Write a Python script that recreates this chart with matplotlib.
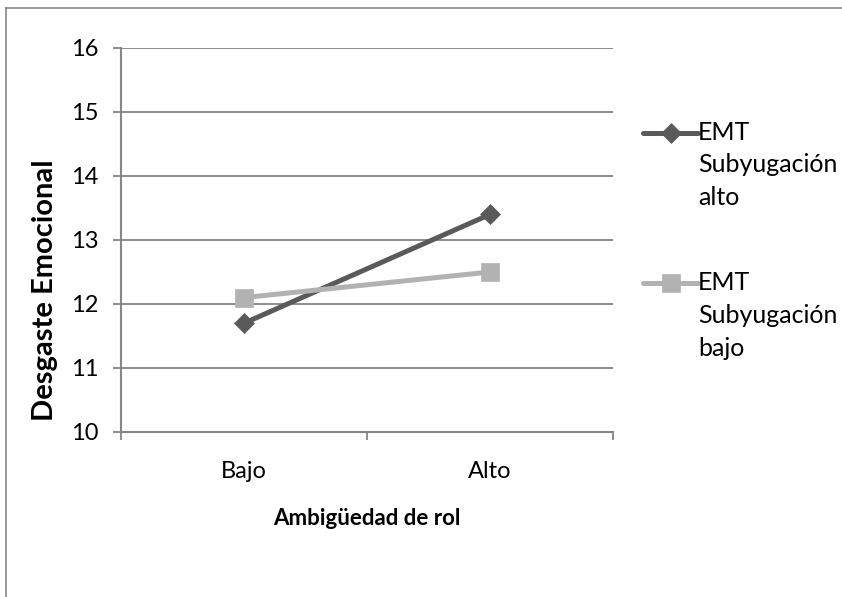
import numpy as np
import matplotlib
matplotlib.use("Agg")
import matplotlib.pyplot as plt
from matplotlib.lines import Line2D
from matplotlib.legend_handler import HandlerLine2D

categories = ["Bajo", "Alto"]
series_names = ["EMT\nSubyugación\nalto", "EMT\nSubyugación\nbajo"]
emt_alto = [11.7, 13.4]
emt_bajo = [12.1, 12.5]
y_ticks = [10, 11, 12, 13, 14, 15, 16]

plt.rcParams["font.family"] = ["Lato", "DejaVu Sans"]

W, H = 842, 597
fig = plt.figure(figsize=(W / 100, H / 100), dpi=100)
ax = fig.add_axes([121 / W, 1 - 432 / H, (613 - 121) / W, (432 - 48) / H])

grid_c = "#868686"
dark = "#5a5a5a"
light = "#b2b2b2"

x = np.arange(len(categories)) + 0.5
ax.plot(x, emt_alto, color=dark, lw=3.6, marker="D", ms=10, mec=dark, mfc=dark, mew=0.5,
        label=series_names[0], solid_capstyle="round")
ax.plot(x, emt_bajo, color=light, lw=3.6, marker="s", ms=13, mec=light, mfc=light, mew=0.5,
        label=series_names[1], solid_capstyle="round")

ax.set_xlim(0, len(categories))
ax.set_ylim(y_ticks[0], y_ticks[-1])
ax.set_yticks(y_ticks)
ax.set_xticks(np.arange(len(categories) + 1))
ax.set_xticklabels([])
ax.set_xticks(x, minor=True)
ax.set_xticklabels(categories, minor=True)
ax.tick_params(axis="x", which="minor", length=0, pad=21, labelsize=17)
ax.tick_params(axis="x", which="major", length=6, width=1.3, color=grid_c, direction="out")
ax.tick_params(axis="y", length=6, width=1.3, color=grid_c, direction="out", labelsize=17, pad=10)

ax.grid(axis="y", color=grid_c, lw=1.3)
ax.set_axisbelow(True)
for s in ["top", "right"]:
    ax.spines[s].set_visible(False)
for s in ["left", "bottom"]:
    ax.spines[s].set_color(grid_c)
    ax.spines[s].set_linewidth(1.5)

ax.set_ylabel("Desgaste Emocional", fontsize=21, fontweight="bold")
ax.yaxis.set_label_coords(-0.128, 0.37)
ax.set_xlabel("Ambigüedad de rol", fontsize=16, fontweight="bold")
ax.xaxis.set_label_coords(0.5, -0.198)


class TopHandler(HandlerLine2D):
    """Line handler raised so it sits beside the first line of a multi-line label."""

    def __init__(self, shift, **kw):
        super().__init__(**kw)
        self.shift = shift

    def create_artists(self, legend, orig_handle, xdescent, ydescent, width, height, fontsize, trans):
        arts = super().create_artists(legend, orig_handle, xdescent, ydescent, width, height,
                                      fontsize, trans)
        for a in arts:
            a.set_ydata(np.asarray(a.get_ydata()) + self.shift * fontsize)
        return arts


leg_fs = 18
h = ax.get_lines()
leg = fig.legend(h, series_names, loc="upper left", bbox_to_anchor=(643 / W, 1 - 121 / H),
                 frameon=False, fontsize=leg_fs, handlelength=2.2, handletextpad=0.0,
                 labelspacing=2.5, borderaxespad=0, borderpad=0, numpoints=1,
                 handler_map={hl: TopHandler(1.32, numpoints=1) for hl in h})
for t in leg.get_texts():
    t.set_linespacing(1.5)

# outer chart border
fig.add_artist(Line2D([6 / W, 6 / W], [1 - 8 / H, -0.05], color=grid_c, lw=1.2,
                      transform=fig.transFigure))
fig.add_artist(Line2D([6 / W, 1.05], [1 - 8 / H, 1 - 8 / H], color=grid_c, lw=1.2,
                      transform=fig.transFigure))

fig.savefig("out.png", dpi=100)
